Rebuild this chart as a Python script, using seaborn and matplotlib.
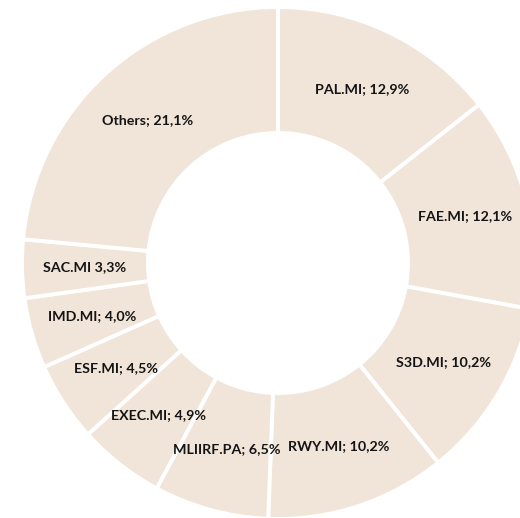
import matplotlib
matplotlib.use("Agg")
import matplotlib.pyplot as plt
import seaborn as sns

# Portfolio weights (as shown on the labels, slices are normalised by pie)
tickers = ["PAL.MI", "FAE.MI", "S3D.MI", "RWY.MI", "MLIIRF.PA",
           "EXEC.MI", "ESF.MI", "IMD.MI", "SAC.MI", "Others"]
shares = [12.9, 12.1, 10.2, 10.2, 6.5, 4.9, 4.5, 4.0, 3.3, 21.1]

labels = []
for t, s in zip(tickers, shares):
    sep = "" if t == "SAC.MI" else ";"
    pct = f"{s:.1f}".replace(".", ",")
    labels.append(f"{t}{sep} {pct}%")

sns.set_style("white")
plt.rcParams["font.family"] = ["Lato", "DejaVu Sans"]

colors = sns.color_palette(["#F1E5D9"] * len(shares))

fig = plt.figure(figsize=(5.2, 5.18), dpi=100)
ax = fig.add_axes([0, 0, 1, 1])

wedges, texts = ax.pie(
    shares,
    labels=labels,
    colors=colors,
    startangle=90,
    counterclock=False,
    labeldistance=0.754,
    wedgeprops=dict(width=0.492, edgecolor="white", linewidth=2.8),
    textprops=dict(fontsize=10.3, fontweight="bold", color="#141414"),
)
for t in texts:
    t.set_horizontalalignment("center")
    t.set_verticalalignment("center")

# crop like the reference: centre at (278, 263) px, outer radius 256 px
ax.set_xlim(-278 / 256, (520 - 278) / 256)
ax.set_ylim(-(518 - 263) / 256, 263 / 256)
ax.set_aspect("auto")
ax.axis("off")

fig.savefig("out.png", dpi=100, facecolor="white")
